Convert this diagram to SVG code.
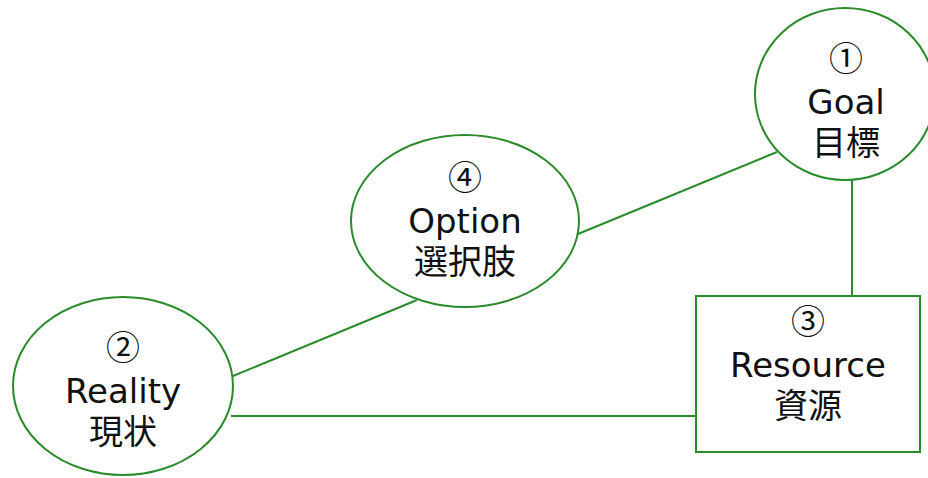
<svg xmlns="http://www.w3.org/2000/svg" width="928" height="478" viewBox="0 0 928 478">
<style>
.n{fill:#fff;stroke:#2b8a2b;stroke-width:2}
.c{stroke:#2b8a2b;stroke-width:2;fill:none}
text{font-family:"DejaVu Sans","Noto Sans CJK JP",sans-serif;font-size:34px;fill:#111;text-anchor:middle}
.j{font-family:"Noto Sans CJK JP",sans-serif;font-size:34px}
</style>
<rect width="928" height="478" fill="#fff"/>
<g id="connectors">
<line class="c" x1="777" y1="152" x2="578" y2="234"/>
<line class="c" x1="852" y1="180" x2="852" y2="296"/>
<line class="c" x1="417" y1="300" x2="233" y2="376"/>
<line class="c" x1="231" y1="416" x2="696" y2="416"/>
</g>
<g id="goal">
<ellipse class="n" cx="845" cy="94" rx="90" ry="86"/>
<text class="j" x="846" y="71">①</text>
<text x="846" y="114">Goal</text>
<text class="j" x="846" y="155">目標</text>
</g>
<g id="option">
<ellipse class="n" cx="465" cy="221" rx="114" ry="86"/>
<text class="j" x="465" y="190">④</text>
<text x="465" y="233">Option</text>
<text class="j" x="465" y="274">選択肢</text>
</g>
<g id="reality">
<ellipse class="n" cx="123" cy="386" rx="110" ry="89"/>
<text class="j" x="123" y="360">②</text>
<text x="123" y="403">Reality</text>
<text class="j" x="123" y="444">現状</text>
</g>
<g id="resource">
<rect class="n" x="696" y="296" width="224" height="156"/>
<text class="j" x="808" y="334">③</text>
<text x="808" y="377">Resource</text>
<text class="j" x="808" y="418">資源</text>
</g>
</svg>
